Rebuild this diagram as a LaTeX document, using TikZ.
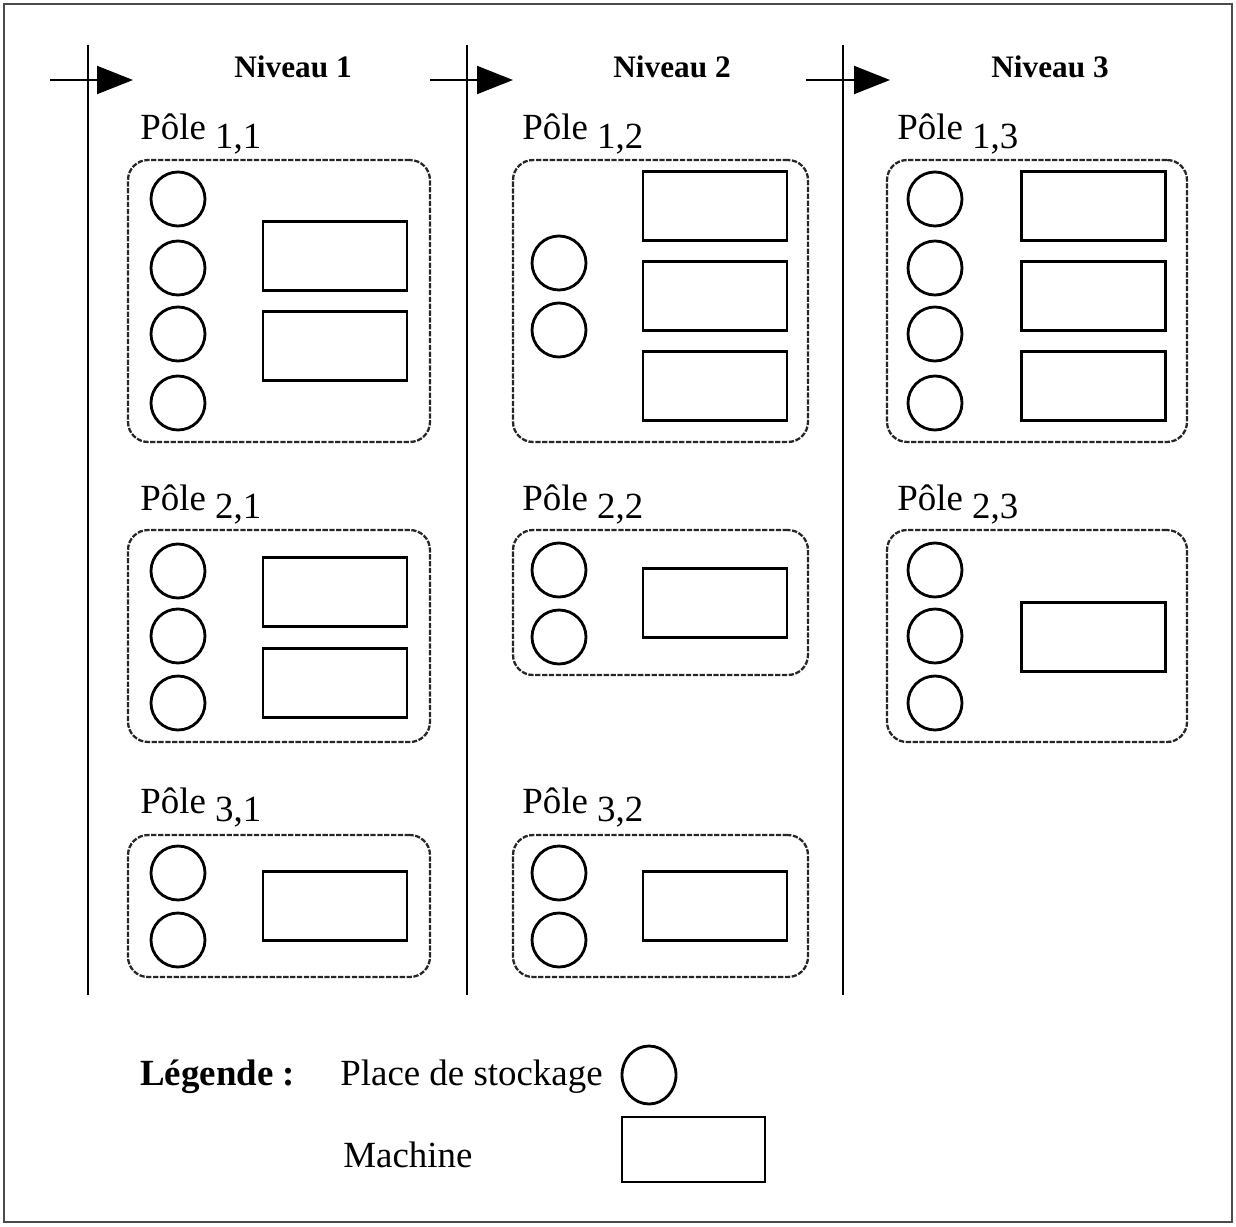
\documentclass[tikz,border=0pt]{standalone}
\usepackage{fontspec}
\setmainfont{Liberation Serif}
\usetikzlibrary{arrows.meta, positioning, shapes.geometric}

\begin{document}
\begin{tikzpicture}[
  x=0.02cm, y=-0.02cm,
  store/.style={draw, circle, line width=1.6pt, minimum size=1.08cm, inner sep=0},
  machine/.style={draw, rectangle, line width=1.6pt, minimum width=2.88cm, minimum height=1.38cm, inner sep=0},
  pole/.style={draw=black!85, rectangle, rounded corners=0.4cm, line width=1.3pt,
    dash pattern=on 3pt off 0.9pt, inner sep=0},
  level/.style={font=\fontsize{17.8}{20}\selectfont\bfseries},
  lab/.style={font=\fontsize{21}{24}\selectfont, anchor=base west, inner sep=0},
  >={Triangle[length=0.72cm, width=0.56cm]}
]
  \useasboundingbox (0,0) rectangle (1236,1226);
  \draw[black!70, line width=1pt] (4,4) rectangle (1232,1222);

  % niveaux
  \draw[line width=1.1pt] (88,45) -- (88,995);
  \draw[line width=1.1pt] (467,45) -- (467,995);
  \draw[line width=1.1pt] (843,45) -- (843,995);
  \coordinate (a1s) at (50,80);  \coordinate (a1e) at (133,80);
  \coordinate (a2s) at (430,80); \coordinate (a2e) at (513,80);
  \coordinate (a3s) at (806,80); \coordinate (a3e) at (890,80);
  \draw[->, line width=1.1pt] (a1s) -- (a1e);
  \draw[->, line width=1.1pt] (a2s) -- (a2e);
  \draw[->, line width=1.1pt] (a3s) -- (a3e);
  \node[level] (n1) at (293,67) {Niveau 1};
  \node[level] (n2) at (672,67) {Niveau 2};
  \node[level] (n3) at (1050,67) {Niveau 3};

  % niveau 1
  \node[lab] (l11) at (140,140) {Pôle \raisebox{-0.17cm}{1,1}};
  \node[pole, minimum width=6.04cm, minimum height=5.64cm] (p11) at (279,301) {};
  \foreach \y [count=\i] in {199,268,334,403}
    \node[store] (s11-\i) at (178,\y) {};
  \node[machine] (m11-1) at (335,256) {};
  \node[machine] (m11-2) at (335,346) {};

  \node[lab] (l21) at (140,510) {Pôle \raisebox{-0.17cm}{2,1}};
  \node[pole, minimum width=6.04cm, minimum height=4.24cm] (p21) at (279,636) {};
  \foreach \y [count=\i] in {571,636,703}
    \node[store] (s21-\i) at (178,\y) {};
  \node[machine] (m21-1) at (335,592) {};
  \node[machine] (m21-2) at (335,683) {};

  \node[lab] (l31) at (140,813) {Pôle \raisebox{-0.17cm}{3,1}};
  \node[pole, minimum width=6.04cm, minimum height=2.84cm] (p31) at (279,906) {};
  \foreach \y [count=\i] in {873,940}
    \node[store] (s31-\i) at (178,\y) {};
  \node[machine] (m31-1) at (335,906) {};

  % niveau 2
  \node[lab] (l12) at (522,140) {Pôle \raisebox{-0.17cm}{1,2}};
  \node[pole, minimum width=5.9cm, minimum height=5.64cm] (p12) at (660.5,301) {};
  \foreach \y [count=\i] in {263,330}
    \node[store] (s12-\i) at (559,\y) {};
  \node[machine] (m12-1) at (715,206) {};
  \node[machine] (m12-2) at (715,296) {};
  \node[machine] (m12-3) at (715,386) {};

  \node[lab] (l22) at (522,510) {Pôle \raisebox{-0.17cm}{2,2}};
  \node[pole, minimum width=5.9cm, minimum height=2.9cm] (p22) at (660.5,602.5) {};
  \foreach \y [count=\i] in {570,637}
    \node[store] (s22-\i) at (559,\y) {};
  \node[machine] (m22-1) at (715,603) {};

  \node[lab] (l32) at (522,813) {Pôle \raisebox{-0.17cm}{3,2}};
  \node[pole, minimum width=5.9cm, minimum height=2.84cm] (p32) at (660.5,906) {};
  \foreach \y [count=\i] in {873,940}
    \node[store] (s32-\i) at (559,\y) {};
  \node[machine] (m32-1) at (715,906) {};

  % niveau 3
  \node[lab] (l13) at (897,140) {Pôle \raisebox{-0.17cm}{1,3}};
  \node[pole, minimum width=6cm, minimum height=5.64cm] (p13) at (1037,301) {};
  \foreach \y [count=\i] in {199,268,334,403}
    \node[store] (s13-\i) at (935,\y) {};
  \node[machine] (m13-1) at (1093.5,206) {};
  \node[machine] (m13-2) at (1093.5,296) {};
  \node[machine] (m13-3) at (1093.5,386) {};

  \node[lab] (l23) at (897,510) {Pôle \raisebox{-0.17cm}{2,3}};
  \node[pole, minimum width=6cm, minimum height=4.24cm] (p23) at (1037,636) {};
  \foreach \y [count=\i] in {570,636,703}
    \node[store] (s23-\i) at (935,\y) {};
  \node[machine] (m23-1) at (1093.5,637) {};

  % legende
  \node[lab, font=\fontsize{21}{24}\selectfont\bfseries] (leg) at (140,1085) {Légende :};
  \node[lab] (lstore) at (340,1085) {Place de stockage};
  \node[draw, ellipse, line width=1.6pt, minimum width=1.08cm, minimum height=1.16cm, inner sep=0] (kstore) at (649,1075) {};
  \node[lab] (lmach) at (343,1167) {Machine};
  \node[machine, minimum width=2.86cm, minimum height=1.3cm] (kmach) at (693.5,1149.5) {};
\end{tikzpicture}
\end{document}
